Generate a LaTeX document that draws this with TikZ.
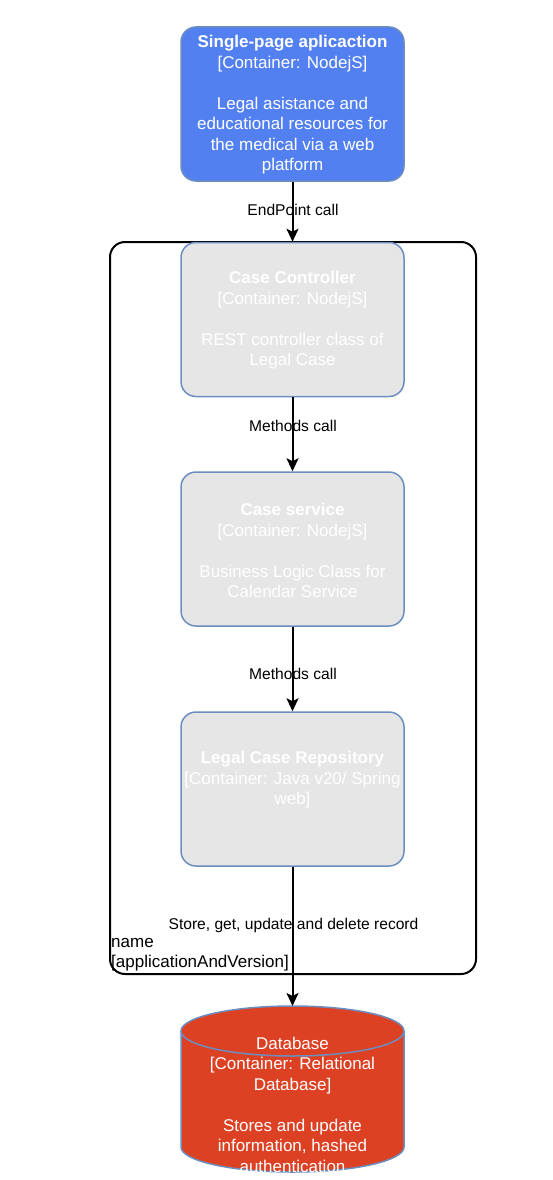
\documentclass[tikz,border=0pt]{standalone}
\usepackage{fontspec}
\setmainfont{Liberation Sans}
\usetikzlibrary{arrows.meta}
\definecolor{spablue}{RGB}{83,128,240}
\definecolor{boxgray}{RGB}{230,230,230}
\definecolor{edgeblue}{RGB}{108,142,191}
\definecolor{dbred}{RGB}{221,65,36}
\tikzset{
  box/.style={draw=edgeblue, line width=1.5pt, rounded corners=15pt, minimum width=223pt, minimum height=154pt, inner sep=0pt},
  boxtext/.style={text=white, align=center, inner sep=0pt, font=\fontsize{17}{20.5}\selectfont},
  lbl/.style={text=black, inner sep=0pt, font=\fontsize{15.6}{19}\selectfont},
  conn/.style={line width=2pt, -{Stealth[length=13pt,width=12pt,inset=3pt]}},
  frame/.style={draw=black, line width=2pt, rounded corners=15pt, fill=white}
}
\begin{document}
\begin{tikzpicture}[x=1pt,y=-1pt]
\useasboundingbox (0,0) rectangle (552,1180);
% container frame
\node[frame, minimum width=366pt, minimum height=732pt, inner sep=0pt] (frm) at (293,608) {};
% boxes
\node[box, fill=spablue] (spa) at (292.5,104) {};
\node[box, fill=boxgray] (ctrl) at (292.5,319.5) {};
\node[box, fill=boxgray] (svc) at (292.5,549) {};
\node[box, fill=boxgray] (repo) at (292.5,789) {};
% database cylinder
\fill[dbred] (181,1031) -- (181,1147) arc[start angle=180, end angle=0, x radius=111.5, y radius=25] -- (404,1031) arc[start angle=0, end angle=-180, x radius=111.5, y radius=25] -- cycle;
\draw[edgeblue, line width=1.5pt] (181,1031) -- (181,1147) arc[start angle=180, end angle=0, x radius=111.5, y radius=25] -- (404,1031);
\draw[edgeblue, line width=1.5pt] (292.5,1031) ellipse[x radius=111.5, y radius=25];
\coordinate (db) at (292.5,1006);
% texts
\node[boxtext] (spat) at (292.5,105) {\textbf{Single-page aplicaction}\\{}[Container: NodejS]\\[20.5pt]Legal asistance and\\educational resources for\\the medical via a web\\platform};
\node[boxtext] (ctrlt) at (292.5,320.5) {\textbf{Case Controller}\\{}[Container: NodejS]\\[20.5pt]REST controller class of\\Legal Case};
\node[boxtext] (svct) at (292.5,550.5) {\textbf{Case service}\\{}[Container: NodejS]\\[20.5pt]Business Logic Class for\\Calendar Service};
\node[boxtext] (repot) at (292.5,780) {\textbf{Legal Case Repository}\\{}[Container: Java v20/ Spring\\web]};
\node[boxtext] (dbt) at (292.5,1104.5) {Database\\{}[Container: Relational\\Database]\\[20.5pt]Stores and update\\information, hashed\\authentication};
% labels
\node[lbl] (l1) at (293,210) {EndPoint call};
\node[lbl] (l2) at (293,426) {Methods call};
\node[lbl] (l3) at (293,674) {Methods call};
\node[lbl] (l4) at (293.5,925) {Store, get, update and delete record};
\node[lbl, align=left, anchor=north west, font=\fontsize{17}{20.5}\selectfont] (nm) at (111,938) {name\\{}[applicationAndVersion]};
% connectors
\draw[conn] (spa.south) -- (ctrl.north);
\draw[conn] (ctrl.south) -- (svc.north);
\draw[conn] (svc.south) -- (repo.north);
\draw[conn] (repo.south) -- (db);
\end{tikzpicture}
\end{document}
